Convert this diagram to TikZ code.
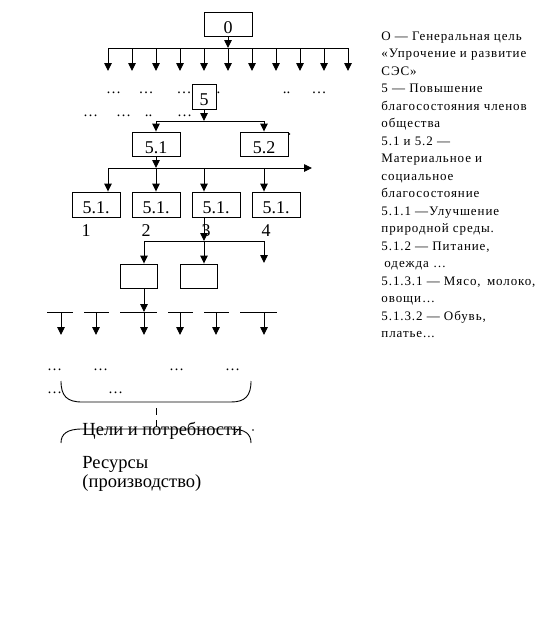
\documentclass[tikz,border=0pt]{standalone}
\usepackage{fontspec}
\setmainfont{Liberation Serif}
\usetikzlibrary{arrows.meta,calc}
\begin{document}
\begin{tikzpicture}[x=1pt,y=-1pt,
  line width=0.9pt,
  tip/.style={-{Triangle[width=7.5pt,length=8pt]}},
  box/.style={draw,inner sep=0pt,minimum width=48pt,minimum height=24pt,text height=18pt,text depth=0pt,font=\fontsize{18}{20}\selectfont},
  dots/.style={anchor=base,inner sep=0pt,font=\fontsize{15}{16}\selectfont},
  num/.style={anchor=base,inner sep=0pt,font=\fontsize{18}{20}\selectfont},
  big/.style={anchor=base west,inner sep=0pt,font=\fontsize{18.5}{20}\selectfont},
  note/.style={anchor=north west,inner sep=0pt,align=left,font=\fontsize{13}{17.5}\selectfont\addfontfeature{LetterSpace=7}},
  dashline/.style={dash pattern=on 7pt off 5pt}
]
\useasboundingbox (0,0) rectangle (553,637);

% level 0
\node[box] (g0) at (228,24) {0};
\coordinate (t0) at (228,48);
\draw[tip] (g0.south) -- (t0);
\foreach \i in {0,...,10}{
  \coordinate (a\i) at ({108+24*\i},48);
  \coordinate (b\i) at ({108+24*\i},71);
  \draw[tip] (a\i) -- (b\i);
}
\draw (a0) -- (a10);

% dots rows
\node[dots] (d11) at (113.5,93) {…};
\node[dots] (d12) at (146,93) {…};
\node[dots] (d13) at (184,93) {…};
\node[dots] (d14) at (218.5,93) {.};
\node[dots] (d15) at (286.5,93) {..};
\node[dots] (d16) at (319,93) {…};
\node[dots] (d21) at (90.5,116) {…};
\node[dots] (d22) at (123.5,116) {…};
\node[dots] (d23) at (148.5,116) {..};
\node[dots] (d24) at (184.5,116) {…};

% level 5
\node[box,minimum width=24pt,minimum height=25pt] (g5) at (204,96.5) {5};
\coordinate (m5) at (204,121);
\coordinate (l5) at (156,121);
\coordinate (r5) at (264,121);
\draw[tip] (g5.south) -- (m5);
\draw (l5) -- (r5);
\node[box] (g51) at (156,144) {5.1};
\node[box] (g52) at (264,144) {5.2};
\draw[tip] (l5) -- (g51.north);
\draw[tip] (r5) -- (g52.north);
\fill (289.5,134) circle (0.9pt);

% level 5.1
\coordinate (m51) at (156,168);
\coordinate (l51) at (108,168);
\coordinate (k3) at (204,168);
\coordinate (k4) at (264,168);
\coordinate (e51) at (312,168);
\draw[tip] (g51.south) -- (m51);
\draw[tip] (l51) -- (e51);
\node[box,minimum height=25pt] (c1) at (96,204.5) {5.1.};
\node[box,minimum height=25pt] (c2) at (156,204.5) {5.1.};
\node[box,minimum height=25pt] (c3) at (216,204.5) {5.1.};
\node[box,minimum height=25pt] (c4) at (276,204.5) {5.1.};
\draw[tip] (l51) -- (l51 |- c1.north);
\draw[tip] (m51) -- (c2.north);
\draw[tip] (k3) -- (k3 |- c3.north);
\draw[tip] (k4) -- (k4 |- c4.north);
\node[num] (n1) at (86,236) {1};
\node[num] (n2) at (146,236) {2};
\node[num] (n3) at (206,236) {3};
\node[num] (n4) at (266,236) {4};

% level 5.1.3
\coordinate (m53) at (204,241);
\coordinate (l53) at (144,241);
\coordinate (r53) at (264,241);
\coordinate (f53) at (264,263);
\draw[tip] (k3 |- c3.south) -- (m53);
\draw (l53) -- (r53);
\node[box,minimum width=37pt] (e1) at (138.5,276) {};
\node[box,minimum width=37pt] (e2) at (198.5,276) {};
\draw[tip] (l53) -- (l53 |- e1.north);
\draw[tip] (m53) -- (m53 |- e2.north);
\draw[tip] (r53) -- (f53);
\coordinate (s3) at (144,312);
\draw[tip] (l53 |- e1.south) -- (s3);

% lower segments
\foreach \a/\b/\c [count=\n] in {47/73/61, 84/109/96, 120/157/144, 168/193/180, 204/229/216, 240/277/264}{
  \coordinate (sl\n) at (\a,312);
  \coordinate (sr\n) at (\b,312);
  \coordinate (sd\n) at (\c,312);
  \coordinate (se\n) at (\c,335);
  \draw (sl\n) -- (sr\n);
  \draw[tip] (sd\n) -- (se\n);
}

% bottom dots
\node[dots] (d31) at (54.5,370) {…};
\node[dots] (d32) at (100.5,370) {…};
\node[dots] (d33) at (176.5,370) {…};
\node[dots] (d34) at (232.5,370) {…};
\node[dots] (d41) at (54.5,393) {…};
\node[dots] (d42) at (115.5,393) {…};

% brackets
\draw (61,381) .. controls (61,396) and (67,402) .. (82,402) -- (231,402) .. controls (245,402) and (251,396) .. (251,381);
\draw[dashline] (156,408) -- (156,428);
\draw (61,443) .. controls (61,434) and (67,429) .. (82,429) -- (231,429) .. controls (245,429) and (251,434) .. (251,443);
\fill (253,430) circle (0.8pt);

\node[big] (goal) at (82,435) {Цели и потребности};
\node[big] (res1) at (82,468) {Ресурсы};
\node[big] (res2) at (82,487) {(производство)};

% legend
\node[note] (legend) at (381,31) {О — Генеральная цель\\
«Упрочение и развитие\\
СЭС»\\
5 — Повышение\\
благосостояния членов\\
общества\\
5.1 и 5.2 —\\
Материальное и\\
социальное\\
благосостояние\\
5.1.1 —Улучшение\\
природной среды.\\
5.1.2 — Питание,\\
\hspace*{3pt}одежда …\\
5.1.3.1 — Мясо,\, молоко,\\
овощи…\\
5.1.3.2 — Обувь,\\
платье...};
\end{tikzpicture}
\end{document}
